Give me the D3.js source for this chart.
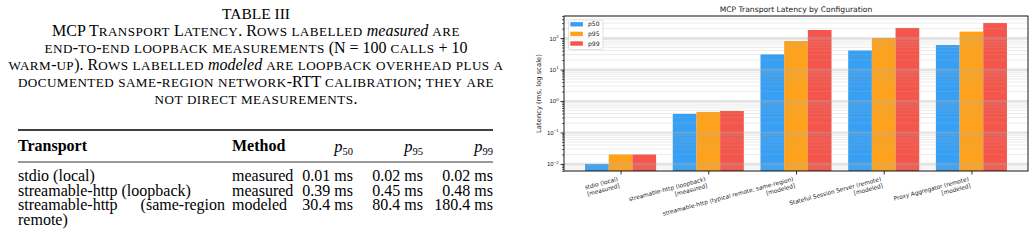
<!DOCTYPE html>
<html>
<head>
<meta charset="utf-8">
<script src="https://cdn.jsdelivr.net/npm/d3@7"></script>
<style>
  body { margin: 0; background: #fff; }
  svg { display: block; }
</style>
</head>
<body>
<div id="chart"></div>
<script>
// ---- chart data
const categories = [
    ["stdio (local)", "[measured]"],
    ["streamable-http (loopback)", "[measured]"],
    ["streamable-http (typical remote, same-region)", "[modeled]"],
    ["Stateful Session Server (remote)", "[modeled]"],
    ["Proxy Aggregator (remote)", "[modeled]"]
];
const seriesNames = ["p50", "p95", "p99"];
const p50 = [0.01, 0.39, 30.4, 40.4, 60.4];
const p95 = [0.02, 0.45, 80.4, 100.4, 160.4];
const p99 = [0.02, 0.48, 180.4, 210.4, 300.4];
const seriesColors = ["#2196F3", "#FF9800", "#F44336"];
const yTickValues = [0.01, 0.1, 1, 10, 100];
const yTickExponents = ["\u22122", "\u22121", "0", "1", "2"];

// ---- table data
const captionTitle = "TABLE III";
const captionLines = [
    [["MCP Transport Latency. Rows labelled ", false], ["measured", true], [" are", false]],
    [["end-to-end loopback measurements (N = 100 calls + 10", false]],
    [["warm-up). Rows labelled ", false], ["modeled", true], [" are loopback overhead plus a", false]],
    [["documented same-region network-RTT calibration; they are", false]],
    [["not direct measurements.", false]]
];
const tableHeader = ["Transport", "Method"];
const tablePercentiles = ["50", "95", "99"];
const tableRows = [
    [["stdio (local)"], "measured", "0.01 ms", "0.02 ms", "0.02 ms"],
    [["streamable-http (loopback)"], "measured", "0.39 ms", "0.45 ms", "0.48 ms"],
    [["streamable-http", "(same-region", "remote)"], "modeled", "30.4 ms", "80.4 ms", "180.4 ms"]
];

const width = 1035, height = 251;
const serif = "'Liberation Serif', 'Times New Roman', serif";
const sans = "'DejaVu Sans', sans-serif";
const capSize = 16, scScale = 0.82, cellSize = 16;

const svg = d3.select("#chart").append("svg")
    .attr("width", width)
    .attr("height", height);

// small caps by hand: lowercase runs become smaller, slightly spaced capitals
function smallCaps(textSel, str) {
    const runs = str.match(/[a-z]+|[^a-z]+/g) || [];
    runs.forEach(r => {
        const lower = /[a-z]/.test(r[0]);
        textSel.append("tspan")
            .attr("font-size", lower ? capSize * scScale : capSize)
            .attr("letter-spacing", lower ? 0.45 : 0)
            .text(lower ? r.toUpperCase() : r);
    });
}

// ================= table (left half) =================
const tbl = svg.append("g").attr("font-family", serif).attr("fill", "#000");
const capX = 256;

tbl.append("text")
    .attr("x", capX).attr("y", 19)
    .attr("text-anchor", "middle")
    .attr("font-size", 15.5)
    .text(captionTitle);

captionLines.forEach((line, i) => {
    const t = tbl.append("text")
        .attr("x", capX).attr("y", 36 + i * 17)
        .attr("text-anchor", "middle")
        .attr("font-size", capSize);
    line.forEach(([s, it]) => {
        if (it) t.append("tspan").attr("font-style", "italic").text(s);
        else smallCaps(t, s);
    });
});

const colTransport = 18, colMethod = 232, colRight = [353, 423, 493], colTransportEnd = 225;

tbl.append("line").attr("x1", 18).attr("x2", 493).attr("y1", 130).attr("y2", 130)
    .attr("stroke", "#000").attr("stroke-width", 1.3);
tbl.append("line").attr("x1", 18).attr("x2", 493).attr("y1", 162).attr("y2", 162)
    .attr("stroke", "#000").attr("stroke-width", 0.8);

const headY = 151;
tbl.append("text").attr("x", colTransport).attr("y", headY)
    .attr("font-size", cellSize).attr("font-weight", "bold").text(tableHeader[0]);
tbl.append("text").attr("x", colMethod).attr("y", headY)
    .attr("font-size", cellSize).attr("font-weight", "bold").text(tableHeader[1]);
tablePercentiles.forEach((p, i) => {
    const t = tbl.append("text").attr("x", colRight[i]).attr("y", headY + 1)
        .attr("text-anchor", "end").attr("font-size", 16.5);
    t.append("tspan").attr("font-style", "italic").text("p");
    t.append("tspan").attr("font-size", 10.5).attr("dy", 3).text(p);
});

const rowY = [181, 195.5, 210];
tableRows.forEach((row, r) => {
    const y = rowY[r];
    const words = row[0];
    if (words.length === 1) {
        tbl.append("text").attr("x", colTransport).attr("y", y)
            .attr("font-size", cellSize).text(words[0]);
    } else {
        // justified first line, then the wrapped remainder
        tbl.append("text").attr("x", colTransport).attr("y", y)
            .attr("font-size", cellSize).text(words[0]);
        tbl.append("text").attr("x", colTransportEnd).attr("y", y)
            .attr("text-anchor", "end").attr("font-size", cellSize).text(words[1]);
        tbl.append("text").attr("x", colTransport).attr("y", y + 14.5)
            .attr("font-size", cellSize).text(words[2]);
    }
    tbl.append("text").attr("x", colMethod).attr("y", y)
        .attr("font-size", cellSize).text(row[1]);
    row.slice(2).forEach((v, i) => {
        tbl.append("text").attr("x", colRight[i]).attr("y", y)
            .attr("text-anchor", "end").attr("font-size", cellSize).text(v);
    });
});

// ================= bar chart (right half) =================
const plot = { left: 564, right: 1028, top: 16, bottom: 171 };
const series = [p50, p95, p99];

const x = d3.scalePoint()
    .domain(d3.range(categories.length))
    .range([plot.left, plot.right])
    .padding(0.645);
const groupW = x.step() * 0.81;
const xInner = d3.scaleBand().domain(seriesNames).range([-groupW / 2, groupW / 2]);

const allVals = series.flat();
const lo = Math.log10(d3.min(allVals)), hi = Math.log10(d3.max(allVals));
const pad = (hi - lo) * 0.05;
const y = d3.scaleLog()
    .domain([10 ** (lo - pad), 10 ** (hi + pad)])
    .range([plot.bottom, plot.top]);

const chart = svg.append("g").attr("font-family", sans);

// bars
seriesNames.forEach((name, s) => {
    chart.append("g")
        .attr("fill", seriesColors[s])
        .attr("fill-opacity", 0.9)
        .selectAll("rect")
        .data(series[s])
        .join("rect")
        .attr("x", (d, i) => x(i) + xInner(name))
        .attr("width", xInner.bandwidth())
        .attr("y", d => y(d))
        .attr("height", d => plot.bottom - y(d));
});

// grid on top of the bars, as matplotlib draws it
const minorTicks = y.ticks().filter(t => !yTickValues.includes(t) && t > y.domain()[0] && t < y.domain()[1]);
chart.append("g")
    .selectAll("line")
    .data(minorTicks)
    .join("line")
    .attr("x1", plot.left).attr("x2", plot.right)
    .attr("y1", d => y(d)).attr("y2", d => y(d))
    .attr("stroke", "#b0b0b0").attr("stroke-opacity", 0.3).attr("stroke-width", 0.8);
chart.append("g")
    .selectAll("line")
    .data(yTickValues)
    .join("line")
    .attr("x1", plot.left).attr("x2", plot.right)
    .attr("y1", d => y(d)).attr("y2", d => y(d))
    .attr("stroke", "#b0b0b0").attr("stroke-opacity", 0.35).attr("stroke-width", 2.2);

// y axis: major and minor ticks
const yAxis = chart.append("g")
    .attr("transform", `translate(${plot.left},0)`)
    .call(d3.axisLeft(y).tickValues(yTickValues).tickSize(3.5).tickPadding(2).tickFormat(""));
yAxis.select(".domain").remove();
yAxis.selectAll(".tick line").attr("stroke", "#000").attr("stroke-width", 0.8);
yAxis.selectAll(".tick text")
    .attr("font-size", 6)
    .attr("fill", "#222")
    .each(function (d, i) {
        const t = d3.select(this);
        t.append("tspan").text("10");
        t.append("tspan").attr("font-size", 4.2).attr("dy", -2.6).text(yTickExponents[i]);
    });

const yMinor = chart.append("g")
    .attr("transform", `translate(${plot.left},0)`)
    .call(d3.axisLeft(y).tickValues(minorTicks).tickSize(2).tickFormat(""));
yMinor.select(".domain").remove();
yMinor.selectAll(".tick line").attr("stroke", "#000").attr("stroke-width", 0.6);

// x axis
const xAxis = chart.append("g")
    .attr("transform", `translate(0,${plot.bottom})`)
    .call(d3.axisBottom(x).tickSize(3.5).tickFormat(""));
xAxis.select(".domain").remove();
xAxis.selectAll(".tick line").attr("stroke", "#000").attr("stroke-width", 0.8);

const labelSize = 5.8, lineH = labelSize * 1.2, rot = 15;
const blockH = lineH * 2;
const sinR = Math.sin(rot * Math.PI / 180);
chart.append("g")
    .selectAll("text")
    .data(categories)
    .join("text")
    .attr("transform", (d, i) => `translate(${x(i) - blockH * sinR},${plot.bottom + 5}) rotate(${-rot})`)
    .attr("text-anchor", "end")
    .attr("font-size", labelSize)
    .attr("fill", "#222")
    .each(function (d) {
        const t = d3.select(this);
        d.forEach((ln, k) => {
            t.append("tspan").attr("x", 0).attr("y", lineH * k + labelSize * 0.85).text(ln);
        });
    });

// frame
chart.append("rect")
    .attr("x", plot.left).attr("y", plot.top)
    .attr("width", plot.right - plot.left).attr("height", plot.bottom - plot.top)
    .attr("fill", "none").attr("stroke", "#000").attr("stroke-width", 0.9);

// title and axis label
chart.append("text")
    .attr("x", (plot.left + plot.right) / 2).attr("y", 12)
    .attr("text-anchor", "middle").attr("font-size", 7.6).attr("fill", "#222")
    .text("MCP Transport Latency by Configuration");

chart.append("text")
    .attr("transform", `translate(540.5,${(plot.top + plot.bottom) / 2}) rotate(-90)`)
    .attr("text-anchor", "middle").attr("font-size", 6.8).attr("fill", "#222")
    .text("Latency (ms, log scale)");

// legend
const legend = chart.append("g").attr("transform", "translate(568.5,20)");
legend.append("rect")
    .attr("width", 34.5).attr("height", 29.5).attr("rx", 1.5)
    .attr("fill", "#fff").attr("fill-opacity", 0.8)
    .attr("stroke", "#ccc").attr("stroke-width", 0.6);
const legendItem = legend.selectAll("g.item")
    .data(seriesNames)
    .join("g")
    .attr("class", "item")
    .attr("transform", (d, i) => `translate(0,${4.3 + i * 9.6})`);
legendItem.append("rect")
    .attr("x", 1.8).attr("y", -2.2).attr("width", 12.6).attr("height", 4.4)
    .attr("fill", (d, i) => seriesColors[i]).attr("fill-opacity", 0.9);
legendItem.append("text")
    .attr("x", 19.5).attr("y", 2.1)
    .attr("font-size", 6.1).attr("fill", "#222")
    .text(d => d);
</script>
</body>
</html>
